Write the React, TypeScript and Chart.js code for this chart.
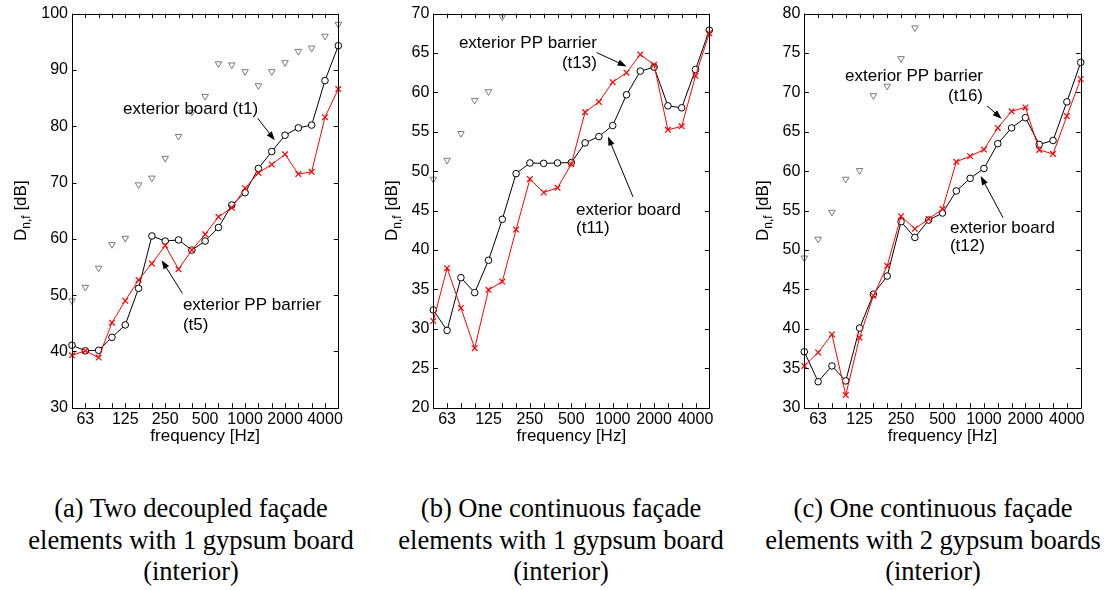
import React, { useEffect, useRef } from 'react';
import { Chart, registerables } from 'chart.js';

Chart.register(...registerables);

// 1/3-octave band centre frequencies [Hz]
const frequencies = ['50', '63', '80', '100', '125', '160', '200', '250', '315', '400', '500', '630', '800', '1000', '1250', '1600', '2000', '2500', '3150', '4000', '5000'];
const shownFreqLabels = ['63', '125', '250', '500', '1000', '2000', '4000'];

// grey reference triangles (same in every panel)
const refLevel = [49.0, 51.4, 54.8, 59.0, 60.1, 69.6, 70.8, 74.3, 78.2, 82.5, 85.3, 91.1, 90.9, 89.7, 87.2, 89.7, 91.3, 93.3, 93.9, 96.0, 98.1];

// (a) two decoupled elements, 1 gypsum board
const boardA = [41.1, 40.1, 40.2, 42.5, 44.7, 51.2, 60.5, 59.6, 59.8, 58.0, 59.6, 62.0, 66.0, 68.2, 72.5, 75.5, 78.4, 79.7, 80.2, 88.1, 94.3];
const barrierA = [39.3, 40.1, 38.9, 45.1, 49.0, 52.7, 55.6, 58.8, 54.6, 58.0, 60.8, 63.9, 65.5, 69.0, 71.7, 73.2, 75.0, 71.5, 71.9, 81.6, 86.6];

// (b) one continuous element, 1 gypsum board
const boardB = [32.4, 29.8, 36.5, 34.6, 38.7, 43.9, 49.7, 51.05, 51.0, 51.05, 51.1, 53.6, 54.4, 55.8, 59.7, 62.7, 63.2, 58.3, 58.05, 62.9, 67.9];
const barrierB = [31.0, 37.7, 32.65, 27.55, 34.95, 36.0, 42.6, 49.0, 47.3, 47.9, 50.9, 57.5, 58.8, 61.3, 62.5, 64.8, 63.5, 55.25, 55.7, 62.1, 67.5];

// (c) one continuous element, 2 gypsum boards
const boardC = [37.1, 33.3, 35.3, 33.4, 40.1, 44.4, 46.7, 53.6, 51.6, 53.8, 54.7, 57.5, 59.1, 60.35, 63.5, 65.5, 66.8, 63.4, 63.9, 68.8, 73.8];
const barrierC = [35.3, 37.0, 39.3, 31.6, 38.9, 44.2, 48.0, 54.3, 52.7, 53.95, 55.2, 61.2, 61.9, 62.75, 65.5, 67.6, 68.1, 62.7, 62.2, 67.0, 71.7];

const SANS = '"Liberation Sans", Arial, Helvetica, sans-serif';
const SERIF = '"Liberation Serif", "Times New Roman", serif';

type Note = { text: string; x: number; y: number; align: CanvasTextAlign };
type Arrow = { from: [number, number]; to: [number, number] };

const framePlugin = {
  id: 'matlabFrame',
  afterDatasetsDraw(chart: any, _args: any, opts: any) {
    const { ctx, chartArea: a, scales } = chart;
    const xs = scales.x;
    const ys = scales.y;
    const L = 4.5;
    const r = (v: number) => Math.round(v) + 0.5;
    ctx.save();
    ctx.strokeStyle = '#000';
    ctx.lineWidth = 1;
    ctx.beginPath();
    ctx.rect(r(a.left), r(a.top), Math.round(a.right) - Math.round(a.left), Math.round(a.bottom) - Math.round(a.top));
    for (let i = 0; i < xs.ticks.length; i++) {
      const px = r(xs.getPixelForTick(i));
      ctx.moveTo(px, a.bottom); ctx.lineTo(px, a.bottom - L);
      ctx.moveTo(px, a.top); ctx.lineTo(px, a.top + L);
    }
    for (let i = 0; i < ys.ticks.length; i++) {
      const py = r(ys.getPixelForTick(i));
      ctx.moveTo(a.left, py); ctx.lineTo(a.left + L, py);
      ctx.moveTo(a.right, py); ctx.lineTo(a.right - L, py);
    }
    ctx.stroke();

    // x title
    ctx.fillStyle = '#000';
    ctx.font = `17px ${SANS}`;
    ctx.textAlign = 'center';
    ctx.textBaseline = 'alphabetic';
    ctx.fillText('frequency [Hz]', (a.left + a.right) / 2, a.bottom + 32.8);

    // y title D_{n,f} [dB]
    ctx.save();
    ctx.translate(a.left - opts.yLabelGap, (a.top + a.bottom) / 2);
    ctx.rotate(-Math.PI / 2);
    ctx.textAlign = 'left';
    ctx.font = `17px ${SANS}`;
    const wD = ctx.measureText('D').width;
    const wRest = ctx.measureText(' [dB]').width;
    ctx.font = `12px ${SANS}`;
    const wSub = ctx.measureText('n,f').width;
    let x = -(wD + wSub + wRest) / 2;
    ctx.font = `17px ${SANS}`;
    ctx.fillText('D', x, 0);
    x += wD;
    ctx.font = `12px ${SANS}`;
    ctx.fillText('n,f', x, 4);
    x += wSub;
    ctx.font = `17px ${SANS}`;
    ctx.fillText(' [dB]', x, 0);
    ctx.restore();

    // annotations
    ctx.font = `17px ${SANS}`;
    ctx.textBaseline = 'middle';
    (opts.notes as Note[]).forEach((n) => {
      ctx.textAlign = n.align;
      ctx.fillText(n.text, xs.getPixelForValue(n.x), ys.getPixelForValue(n.y));
    });
    (opts.arrows as Arrow[]).forEach((ar) => {
      const x1 = xs.getPixelForValue(ar.from[0]);
      const y1 = ys.getPixelForValue(ar.from[1]);
      const x2 = xs.getPixelForValue(ar.to[0]);
      const y2 = ys.getPixelForValue(ar.to[1]);
      const ang = Math.atan2(y2 - y1, x2 - x1);
      const hl = 9;
      const hw = 3.2;
      ctx.beginPath();
      ctx.moveTo(x1, y1);
      ctx.lineTo(x2 - hl * 0.8 * Math.cos(ang), y2 - hl * 0.8 * Math.sin(ang));
      ctx.stroke();
      ctx.beginPath();
      ctx.moveTo(x2, y2);
      ctx.lineTo(x2 - hl * Math.cos(ang) + hw * Math.sin(ang), y2 - hl * Math.sin(ang) - hw * Math.cos(ang));
      ctx.lineTo(x2 - hl * Math.cos(ang) - hw * Math.sin(ang), y2 - hl * Math.sin(ang) + hw * Math.cos(ang));
      ctx.closePath();
      ctx.fill();
    });
    ctx.restore();
  },
};

type PanelProps = {
  left: number;
  width: number;
  yAxisWidth: number;
  padRight: number;
  yMin: number;
  yMax: number;
  yStep: number;
  board: number[];
  barrier: number[];
  notes: Note[];
  arrows: Arrow[];
  yLabelGap: number;
};

function Panel(p: PanelProps) {
  const ref = useRef<HTMLCanvasElement>(null);
  useEffect(() => {
    if (!ref.current) return;
    const chart = new Chart(ref.current, {
      type: 'line',
      data: {
        labels: frequencies,
        datasets: [
          {
            label: 'exterior PP barrier',
            data: p.barrier,
            borderColor: '#ff0000',
            borderWidth: 1,
            pointStyle: 'crossRot',
            pointRadius: 4,
            pointBorderWidth: 1.2,
            pointBorderColor: '#ff0000',
            pointBackgroundColor: '#ff0000',
            tension: 0,
            clip: 8,
          } as any,
          {
            label: 'exterior board',
            data: p.board,
            borderColor: '#000000',
            borderWidth: 1,
            pointStyle: 'circle',
            pointRadius: 3.3,
            pointBorderWidth: 1,
            pointBorderColor: '#000000',
            pointBackgroundColor: '#ffffff',
            tension: 0,
            clip: 8,
          } as any,
          {
            label: 'reference',
            data: refLevel,
            showLine: false,
            pointStyle: 'triangle',
            pointRotation: 180,
            pointRadius: 3.8,
            pointBorderWidth: 1,
            pointBorderColor: '#7a7a7a',
            pointBackgroundColor: 'rgba(0,0,0,0)',
          } as any,
        ],
      },
      options: {
        responsive: false,
        animation: false,
        devicePixelRatio: 1,
        events: [],
        layout: { padding: { left: 0, top: 13.5, right: p.padRight, bottom: 0 } },
        plugins: {
          legend: { display: false },
          tooltip: { enabled: false },
          matlabFrame: { notes: p.notes, arrows: p.arrows, yLabelGap: p.yLabelGap },
        } as any,
        scales: {
          x: {
            type: 'category',
            offset: false,
            grid: { display: false, drawTicks: false },
            border: { display: false },
            ticks: {
              autoSkip: false,
              maxRotation: 0,
              minRotation: 0,
              padding: 2,
              color: '#000',
              font: { family: SANS, size: 16 },
              callback: (_v: any, i: number) => (shownFreqLabels.includes(frequencies[i]) ? frequencies[i] : ''),
            },
            afterFit: (s: any) => { s.height = 42.3; },
          },
          y: {
            type: 'linear',
            min: p.yMin,
            max: p.yMax,
            grid: { display: false, drawTicks: false },
            border: { display: false },
            ticks: { stepSize: p.yStep, padding: 4, color: '#000', font: { family: SANS, size: 16 } },
            afterFit: (s: any) => { s.width = p.yAxisWidth; },
          },
        },
      } as any,
      plugins: [framePlugin],
    });
    return () => chart.destroy();
  }, []);
  return (
    <canvas
      ref={ref}
      width={p.width}
      height={450}
      style={{ position: 'absolute', left: p.left, top: 0, width: p.width, height: 450 }}
    />
  );
}

const captionStyle = (center: number): React.CSSProperties => ({
  position: 'absolute',
  left: center - 200,
  top: 493,
  width: 400,
  textAlign: 'center',
  fontFamily: SERIF,
  fontSize: 26.5,
  lineHeight: '31.5px',
  color: '#000',
  whiteSpace: 'nowrap',
});

export default function App() {
  return (
    <div style={{ position: 'absolute', left: 0, top: 0, width: 1105, height: 590, background: '#fff', overflow: 'hidden' }}>
      <Panel
        left={0}
        width={360}
        yAxisWidth={72}
        padRight={21.7}
        yMin={30}
        yMax={100}
        yStep={10}
        board={boardA}
        barrier={barrierA}
        yLabelGap={46.5}
        notes={[
          { text: 'exterior board (t1)', x: 3.83, y: 83.0, align: 'left' },
          { text: 'exterior PP barrier', x: 8.33, y: 48.2, align: 'left' },
          { text: '(t5)', x: 8.33, y: 44.7, align: 'left' },
        ]}
        arrows={[
          { from: [13.95, 81.4], to: [15.23, 77.5] },
          { from: [8.3, 50.3], to: [6.73, 56.2] },
        ]}
      />
      <Panel
        left={370}
        width={360}
        yAxisWidth={63.3}
        padRight={20.7}
        yMin={20}
        yMax={70}
        yStep={5}
        board={boardB}
        barrier={barrierB}
        yLabelGap={36}
        notes={[
          { text: 'exterior PP barrier', x: 11.85, y: 66.2, align: 'right' },
          { text: '(t13)', x: 11.85, y: 63.65, align: 'right' },
          { text: 'exterior board', x: 10.34, y: 45.0, align: 'left' },
          { text: '(t11)', x: 10.34, y: 42.7, align: 'left' },
        ]}
        arrows={[
          { from: [11.84, 65.05], to: [14.01, 63.3] },
          { from: [14.47, 46.75], to: [12.66, 54.4] },
        ]}
      />
      <Panel
        left={740}
        width={365}
        yAxisWidth={64.3}
        padRight={24.3}
        yMin={30}
        yMax={80}
        yStep={5}
        board={boardC}
        barrier={barrierC}
        yLabelGap={36.8}
        notes={[
          { text: 'exterior PP barrier', x: 12.93, y: 72.0, align: 'right' },
          { text: '(t16)', x: 12.93, y: 69.46, align: 'right' },
          { text: 'exterior board', x: 10.54, y: 52.8, align: 'left' },
          { text: '(t12)', x: 10.54, y: 50.5, align: 'left' },
        ]}
        arrows={[
          { from: [13.22, 68.3], to: [14.28, 66.67] },
          { from: [14.38, 54.1], to: [12.76, 59.4] },
        ]}
      />
      <div style={captionStyle(191)}>
        (a) Two decoupled façade<br />elements with 1 gypsum board<br />(interior)
      </div>
      <div style={captionStyle(561)}>
        (b) One continuous façade<br />elements with 1 gypsum board<br />(interior)
      </div>
      <div style={captionStyle(933)}>
        (c) One continuous façade<br />elements with 2 gypsum boards<br />(interior)
      </div>
    </div>
  );
}
